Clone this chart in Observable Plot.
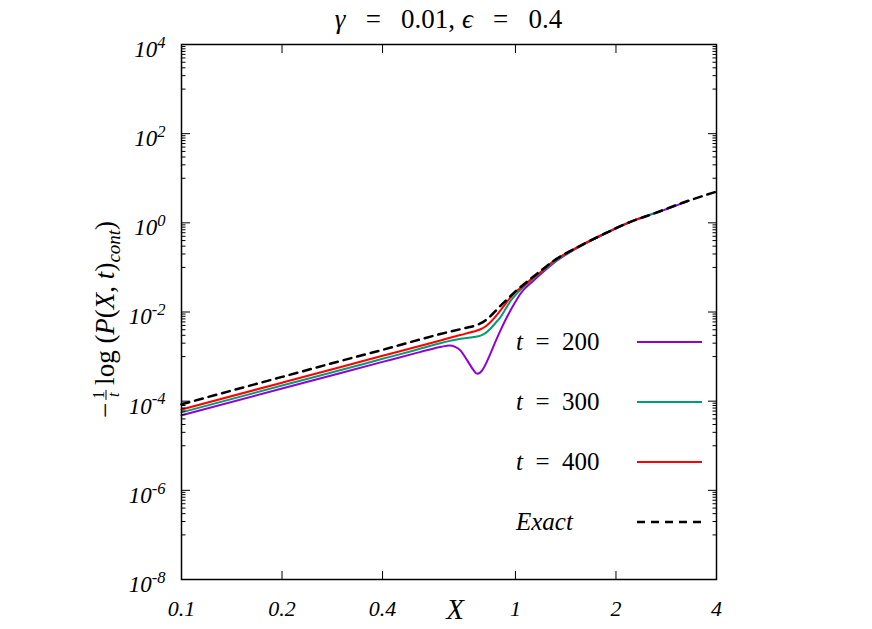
<!DOCTYPE html>
<html><head><meta charset="utf-8">
<script src="https://cdn.jsdelivr.net/npm/d3@7"></script>
<script src="https://cdn.jsdelivr.net/npm/@observablehq/plot@0.6"></script>
<style>
body{margin:0;background:#fff;}
#title{height:32px;line-height:38px;font-family:"Liberation Serif","Times New Roman",serif;font-size:27px;text-align:center;margin-left:181px;width:535px;white-space:pre;}
#chart svg{display:block;}
</style></head><body>
<div id="title"><i>γ</i>&ensp; =&ensp; 0.01, <i>ϵ</i>&ensp; =&ensp; 0.4</div>
<div id="chart"></div>
<script>
// ---- data ----
const exactX = [0.1, 0.15, 0.2, 0.3, 0.4, 0.5, 0.6, 0.7, 0.78, 0.82, 0.86, 0.9, 0.95, 1.0, 1.06, 1.13, 1.2, 1.3, 1.5, 1.8, 2.2, 2.6, 3.2, 4.0];
const exactY = [8.5e-5, 1.95e-4, 3.5e-4, 8.0e-4, 1.42e-3, 2.25e-3, 3.25e-3, 4.3e-3, 5.4e-3, 6.8e-3, 9.5e-3, 0.0135, 0.02, 0.029, 0.042, 0.062, 0.088, 0.14, 0.26, 0.52, 1.04, 1.62, 2.9, 5.0];

const t400X = [0.1, 0.2, 0.3, 0.4, 0.5, 0.6, 0.684, 0.74, 0.786, 0.815, 0.841, 0.87, 0.902, 0.935, 0.966, 1.0, 1.059, 1.12, 1.188, 1.26, 1.333, 1.5, 1.8, 2.2, 2.48];
const t400Y = [6.5e-5, 2.6e-4, 5.85e-4, 1.04e-3, 1.62e-3, 2.33e-3, 3.05e-3, 3.55e-3, 4.1e-3, 4.8e-3, 5.9e-3, 7.8e-3, 0.0109, 0.0155, 0.021, 0.028, 0.039, 0.056, 0.078, 0.115, 0.157, 0.26, 0.52, 1.04, 1.44];

const t300X = [0.1, 0.2, 0.3, 0.4, 0.5, 0.6, 0.684, 0.75, 0.786, 0.815, 0.841, 0.87, 0.902, 0.935, 0.966, 1.0, 1.035, 1.1, 1.188, 1.3, 1.5, 1.8, 2.2, 2.77];
const t300Y = [5.6e-5, 2.24e-4, 5.0e-4, 8.9e-4, 1.39e-3, 2.02e-3, 2.5e-3, 2.74e-3, 2.95e-3, 3.4e-3, 4.2e-3, 5.6e-3, 7.7e-3, 0.0118, 0.0175, 0.024, 0.031, 0.047, 0.076, 0.13, 0.255, 0.52, 1.04, 1.93];

const t200X = [0.1, 0.2, 0.3, 0.4, 0.5, 0.55, 0.6, 0.635, 0.66, 0.684, 0.717, 0.75, 0.768, 0.795, 0.82, 0.841, 0.87, 0.902, 0.935, 0.966, 1.0, 1.035, 1.134, 1.2, 1.3, 1.5, 1.8, 2.2, 2.8, 3.3];
const t200Y = [4.8e-5, 1.92e-4, 4.3e-4, 7.6e-4, 1.18e-3, 1.42e-3, 1.66e-3, 1.77e-3, 1.65e-3, 1.38e-3, 8.2e-4, 4.9e-4, 4.1e-4, 4.9e-4, 7.5e-4, 1.15e-3, 2.1e-3, 3.86e-3, 6.8e-3, 0.0108, 0.017, 0.0257, 0.051, 0.075, 0.125, 0.25, 0.51, 1.03, 1.97, 3.1];

const xTicks = [0.1, 0.2, 0.4, 1, 2, 4];
const xTickLabels = ["0.1", "0.2", "0.4", "1", "2", "4"];
const yMajor = [1e-8, 1e-6, 1e-4, 1e-2, 1, 1e2, 1e4];
const yExponents = ["-8", "-6", "-4", "-2", "0", "2", "4"];
const yMinor = [];
for (const e of [-7, -5, -3, -1, 1, 3]) for (let m = 1; m <= 9; m++) yMinor.push(m * Math.pow(10, e));

const legendLabels = ["200", "300", "400", "Exact"];
const colors = ["#9400d3", "#009e73", "#ff0000", "#000000"];

const toRows = (xs, ys) => xs.map((x, i) => ({x, y: ys[i]}));
const s200 = toRows(t200X, t200Y), s300 = toRows(t300X, t300Y), s400 = toRows(t400X, t400Y), sExact = toRows(exactX, exactY);

const FONT = "Liberation Serif, Times New Roman, serif";
const W = 872, H = 597, ML = 181, MR = 156, MT = 12, MB = 50;

const plot = Plot.plot({
  width: W, height: H,
  marginTop: MT, marginLeft: ML, marginRight: MR, marginBottom: MB,
  style: {fontFamily: FONT, background: "white", color: "black"},
  x: {type: "log", domain: [0.1, 4]},
  y: {type: "log", domain: [1e-8, 1e4]},
  marks: [
    Plot.line(s200, {x: "x", y: "y", stroke: colors[0], strokeWidth: 2, curve: "monotone-x"}),
    Plot.line(s300, {x: "x", y: "y", stroke: colors[1], strokeWidth: 2, curve: "monotone-x"}),
    Plot.line(s400, {x: "x", y: "y", stroke: colors[2], strokeWidth: 2, curve: "monotone-x"}),
    Plot.line(sExact, {x: "x", y: "y", stroke: colors[3], strokeWidth: 2.5, strokeDasharray: "8,6", curve: "monotone-x"}),
    Plot.axisX({anchor: "bottom", ticks: xTicks, tickSize: -8, tickFormat: () => "", label: null, strokeWidth: 1}),
    Plot.axisX({anchor: "top", ticks: xTicks, tickSize: -8, tickFormat: () => "", label: null, strokeWidth: 1}),
    Plot.axisX({anchor: "bottom", ticks: xTicks, tickSize: 0, tickPadding: 21, label: null,
      tickFormat: d => xTickLabels[xTicks.indexOf(d)], fontSize: 22, fontStyle: "italic"}),
    Plot.axisY({anchor: "left", ticks: yMajor, tickSize: -9, tickFormat: () => "", label: null}),
    Plot.axisY({anchor: "right", ticks: yMajor, tickSize: -9, tickFormat: () => "", label: null}),
    Plot.axisY({anchor: "left", ticks: yMinor, tickSize: -4.5, tickFormat: () => "", label: null}),
    Plot.axisY({anchor: "right", ticks: yMinor, tickSize: -4.5, tickFormat: () => "", label: null}),
    Plot.axisY({anchor: "left", ticks: yMajor, tickSize: 0, tickPadding: 16, label: null, dy: 5,
      tickFormat: d => "10^" + yExponents[yMajor.indexOf(d)], fontSize: 23, fontStyle: "italic"}),
    Plot.frame({stroke: "black", strokeWidth: 1.5})
  ]
});
document.getElementById("chart").appendChild(plot);

const svg = d3.select(plot);
// superscripts for y tick labels
svg.selectAll("text").filter(function() { return this.textContent.includes("^"); }).each(function() {
  const t = d3.select(this);
  const [base, exp] = this.textContent.split("^");
  t.text(null);
  t.append("tspan").text(base);
  t.append("tspan").attr("dy", "-0.55em").attr("font-size", "0.72em").text(exp);
});

const fx0 = ML, fx1 = W - MR, fy0 = MT, fy1 = H - MB;

// x axis title
svg.append("text").attr("x", 455).attr("y", fy1 + 40).attr("text-anchor", "middle")
  .attr("font-family", FONT).attr("font-style", "italic").attr("font-size", 29).text("X");

// y axis title (rotated, with stacked fraction)
const gy = svg.append("g").attr("font-family", FONT).attr("font-size", 27).attr("text-anchor", "start");
const inner = gy.append("g");
let cx = 0;
const minus = inner.append("text").attr("x", cx).attr("y", 0).text("−");
cx += minus.node().getComputedTextLength() + 3;
inner.append("text").attr("x", cx + 5).attr("y", -10).attr("font-size", 16).attr("text-anchor", "middle").text("1");
inner.append("line").attr("x1", cx).attr("x2", cx + 10).attr("y1", -8).attr("y2", -8).attr("stroke", "black").attr("stroke-width", 1);
inner.append("text").attr("x", cx + 5).attr("y", 5).attr("font-size", 16).attr("font-style", "italic").attr("text-anchor", "middle").text("t");
cx += 15;
const rest = inner.append("text").attr("x", cx).attr("y", 0);
rest.append("tspan").text("log (");
rest.append("tspan").attr("font-style", "italic").text("P");
rest.append("tspan").text("(");
rest.append("tspan").attr("font-style", "italic").text("X");
rest.append("tspan").text(", ");
rest.append("tspan").attr("font-style", "italic").text("t");
rest.append("tspan").text(")");
rest.append("tspan").attr("font-style", "italic").attr("font-size", 19).attr("dy", 6).text("cont");
rest.append("tspan").attr("dy", -6).text(")");
cx += rest.node().getComputedTextLength();
inner.attr("transform", `translate(${-cx / 2},0)`);
gy.attr("transform", `translate(114,${(fy0 + fy1) / 2 + 8}) rotate(-90)`);

// legend
const lg = svg.append("g").attr("font-family", FONT).attr("font-size", 25).attr("text-anchor", "start");
legendLabels.forEach((lab, i) => {
  const y = fy0 + 298 + i * 60;
  const tx = lg.append("text").attr("x", fx1 - 200).attr("y", y).attr("dy", "0.33em");
  if (lab === "Exact") {
    tx.attr("font-style", "italic").text(lab);
  } else {
    tx.append("tspan").attr("font-style", "italic").text("t");
    tx.append("tspan").text("\u2002=\u2002" + lab);
  }
  lg.append("line").attr("x1", fx1 - 79).attr("x2", fx1 - 14).attr("y1", y).attr("y2", y)
    .attr("stroke", colors[i]).attr("stroke-width", i === 3 ? 2.5 : 2)
    .attr("stroke-dasharray", i === 3 ? "8,6" : null);
});
</script>
</body></html>
